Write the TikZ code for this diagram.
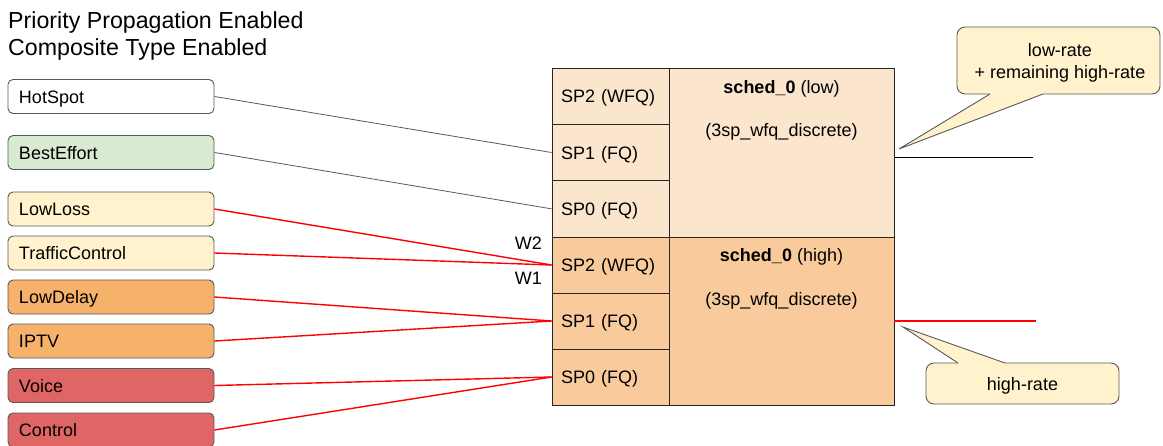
\documentclass[tikz,border=0pt]{standalone}
\usepackage{fontspec}
\setmainfont{Liberation Sans}
\definecolor{bgray}{RGB}{89,89,89}
\definecolor{cwhite}{RGB}{255,255,255}
\definecolor{cgreen}{RGB}{217,234,211}
\definecolor{cyellow}{RGB}{255,242,204}
\definecolor{corange}{RGB}{246,178,107}
\definecolor{cred}{RGB}{224,102,102}
\definecolor{clow}{RGB}{252,229,205}
\definecolor{chigh}{RGB}{249,203,156}
\definecolor{lred}{RGB}{255,0,0}
\newcommand\labfont{\fontsize{18}{21}\selectfont}
\newcommand\titlefont{\fontsize{23.2}{27}\selectfont}
\begin{document}
\begin{tikzpicture}[x=1pt,y=-1pt,
  lab/.style={draw=bgray, line width=0.9pt, rounded corners=5pt, minimum width=206pt, minimum height=34pt,
    inner xsep=11pt, inner ysep=0pt, text width=184pt, text height=13pt, text depth=0pt, align=left, font=\labfont},
  spcell/.style={draw=black!85, line width=0.9pt, minimum width=117pt, inner xsep=9pt, inner ysep=0pt,
    text width=99pt, text height=13pt, text depth=0pt, align=left, font=\labfont},
  schedcell/.style={draw=black!85, line width=0.9pt, minimum width=225pt, inner sep=0pt},
  stext/.style={font=\labfont, inner sep=0pt},
  gline/.style={draw=bgray, line width=0.8pt},
  rline/.style={draw=lred, line width=1.4pt},
  callbox/.style={draw=bgray, line width=0.9pt, fill=cyellow, rounded corners=8pt, inner sep=0pt},
  calltext/.style={align=center, font=\labfont, inner sep=0pt},
  ]
\useasboundingbox (0,0) rectangle (1163,445);
% title
\node[anchor=base west, font=\titlefont, inner sep=0pt] (title1) at (8,28) {Priority Propagation Enabled};
\node[anchor=base west, font=\titlefont, inner sep=0pt] (title2) at (8,55) {Composite Type Enabled};
% left class boxes
\node[lab, fill=cwhite]  (hot)  at (111,96.5) {HotSpot};
\node[lab, fill=cgreen]  (be)   at (111,152.5) {BestEffort};
\node[lab, fill=cyellow] (ll)   at (111,209) {LowLoss};
\node[lab, fill=cyellow] (tc)   at (111,253) {TrafficControl};
\node[lab, fill=corange] (ld)   at (111,297) {LowDelay};
\node[lab, fill=corange] (iptv) at (111,341) {IPTV};
\node[lab, fill=cred]    (voice) at (111,385.5) {Voice};
\node[lab, fill=cred]    (ctrl) at (111,430) {Control};
% scheduler block
\node[schedcell, fill=clow, minimum height=169pt] (lowS) at (781.5,152.5) {};
\node[schedcell, fill=chigh, minimum height=168pt] (highS) at (781.5,321) {};
\node[spcell, fill=clow, minimum height=56.33pt] (lsp2) at (610.5,96.17) {SP2 (WFQ)};
\node[spcell, fill=clow, minimum height=56.33pt] (lsp1) at (610.5,152.5) {SP1 (FQ)};
\node[spcell, fill=clow, minimum height=56.33pt] (lsp0) at (610.5,208.83) {SP0 (FQ)};
\node[spcell, fill=chigh, minimum height=56pt] (hsp2) at (610.5,265) {SP2 (WFQ)};
\node[spcell, fill=chigh, minimum height=56pt] (hsp1) at (610.5,321) {SP1 (FQ)};
\node[spcell, fill=chigh, minimum height=56pt] (hsp0) at (610.5,377) {SP0 (FQ)};
\node[stext] (lt1) at (781.5,89) {\textbf{sched\_0} (low)};
\node[stext] (lt2) at (781.5,132) {(3sp\_wfq\_discrete)};
\node[stext] (ht1) at (781.5,257) {\textbf{sched\_0} (high)};
\node[stext] (ht2) at (781.5,301) {(3sp\_wfq\_discrete)};
% weights
\node[stext, anchor=east] (w2) at (542,243) {W2};
\node[stext, anchor=east] (w1) at (542,278) {W1};
% connectors
\draw[gline] (hot.east) -- (lsp1.west);
\draw[gline] (be.east) -- (lsp0.west);
\draw[rline] (ll.east) -- (hsp2.west);
\draw[rline] (tc.east) -- (hsp2.west);
\draw[rline] (ld.east) -- (hsp1.west);
\draw[rline] (iptv.east) -- (hsp1.west);
\draw[rline] (voice.east) -- (hsp0.west);
\draw[rline] (ctrl.east) -- (hsp0.west);
% outputs
\coordinate (loout) at (1033,157);
\coordinate (hiout) at (1036,321);
\draw[draw=black, line width=0.9pt] (lowS.east |- loout) -- (loout);
\draw[rline] (highS.east |- hiout) -- (hiout);
% callout low
\node[callbox, minimum width=203pt, minimum height=67pt] (c1) at (1058.5,60.5) {};
\node[calltext] (c1t) at (1060,62.5) {low-rate\\[1pt]+ remaining high-rate};
\coordinate (tip1) at (899,149);
\fill[cyellow] (990,91) -- (1043,91) -- (1043,94) -- (tip1) -- (990,94) -- cycle;
\draw[draw=bgray, line width=0.9pt, line join=miter] (990,94) -- (tip1) -- (1043,94);
% callout high
\node[callbox, minimum width=193pt, minimum height=41pt] (c2) at (1022.5,383.5) {};
\node[calltext] (c2t) at (1022.5,386) {high-rate};
\coordinate (tip2) at (903,327);
\fill[cyellow] (958,366) -- (1005,366) -- (1005,363) -- (tip2) -- (958,363) -- cycle;
\draw[draw=bgray, line width=0.9pt, line join=miter] (958,363) -- (tip2) -- (1005,363);
\end{tikzpicture}
\end{document}
